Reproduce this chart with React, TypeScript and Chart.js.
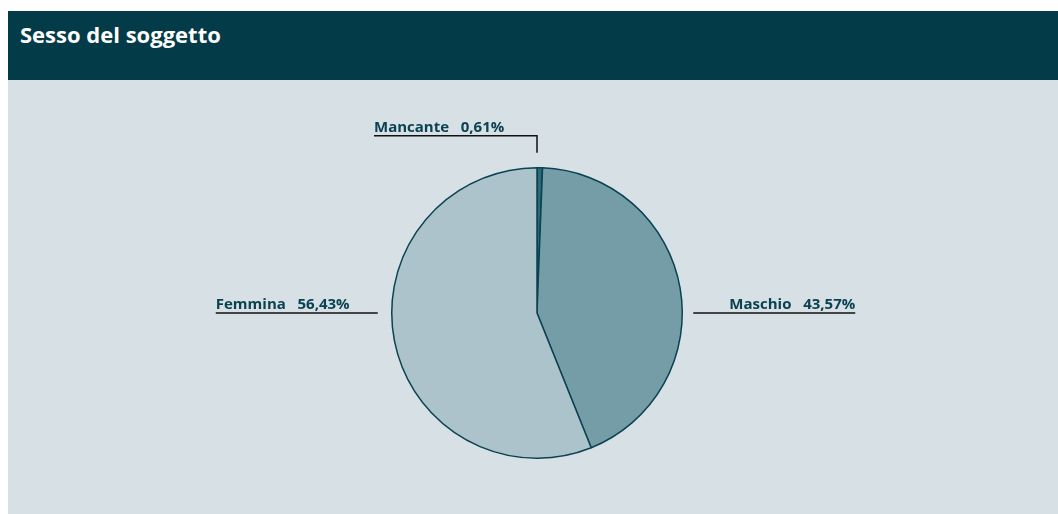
import React, { useEffect, useRef } from "react";
import { Chart, registerables } from "chart.js";

Chart.register(...registerables);

const title = "Sesso del soggetto";
const categories = ["Mancante", "Maschio", "Femmina"];
const values = [0.61, 43.57, 56.43];
const valueLabels = ["0,61%", "43,57%", "56,43%"];
const sliceColors = ["#2c6a79", "#759da8", "#adc3cb"];
const labelSides = ["top", "right", "left"];

const labelPlugin = {
  id: "pieLabels",
  afterDatasetsDraw(chart: any) {
    const ctx = chart.ctx;
    const meta = chart.getDatasetMeta(0);
    const first = meta.data[0];
    if (!first) return;
    const cx = first.x;
    const cy = first.y;
    const r = first.outerRadius;
    ctx.save();
    ctx.font = "bold 15px 'Open Sans', 'DejaVu Sans', sans-serif";
    ctx.fillStyle = "#0b4251";
    ctx.strokeStyle = "#111111";
    ctx.lineWidth = 1.5;
    ctx.textBaseline = "alphabetic";
    categories.forEach((cat, i) => {
      const text = cat + "   " + valueLabels[i];
      const side = labelSides[i];
      const arc = meta.data[i];
      if (side === "top") {
        const x = cx + Math.cos(arc.startAngle) * r;
        const yTop = cy - r - 15;
        const yLine = cy - r - 32;
        ctx.beginPath();
        ctx.moveTo(x, yTop);
        ctx.lineTo(x, yLine);
        ctx.lineTo(x - 163, yLine);
        ctx.stroke();
        ctx.textAlign = "left";
        ctx.fillText(text, x - 163, yLine - 4);
      } else if (side === "left") {
        const xEnd = cx - r - 14;
        const xStart = xEnd - 162;
        ctx.beginPath();
        ctx.moveTo(xStart, cy);
        ctx.lineTo(xEnd, cy);
        ctx.stroke();
        ctx.textAlign = "left";
        ctx.fillText(text, xStart, cy - 4);
      } else {
        const xStart = cx + r + 11;
        const xEnd = xStart + 162;
        ctx.beginPath();
        ctx.moveTo(xStart, cy);
        ctx.lineTo(xEnd, cy);
        ctx.stroke();
        ctx.textAlign = "right";
        ctx.fillText(text, xEnd, cy - 4);
      }
    });
    ctx.restore();
  },
};

export default function App() {
  const ref = useRef<HTMLCanvasElement>(null);
  useEffect(() => {
    if (!ref.current) return;
    const chart = new Chart(ref.current, {
      type: "pie",
      data: {
        labels: categories,
        datasets: [
          {
            data: values,
            backgroundColor: sliceColors,
            borderColor: "#0a4250",
            borderWidth: 1.5,
          },
        ],
      },
      options: {
        animation: false,
        responsive: false,
        maintainAspectRatio: false,
        layout: { padding: { top: 87, bottom: 55, left: 8, right: 0 } },
        plugins: {
          legend: { display: false },
          tooltip: { enabled: false },
        },
      },
      plugins: [labelPlugin],
    });
    return () => chart.destroy();
  }, []);
  return (
    <div style={{ position: "absolute", left: 8, top: 11, width: 1050, height: 503, background: "#d6e0e5" }}>
      <div
        style={{
          height: 69,
          background: "#033b49",
          color: "#ffffff",
          fontFamily: "'Open Sans', 'DejaVu Sans', sans-serif",
          fontWeight: 700,
          fontSize: 22,
          lineHeight: "22px",
          paddingLeft: 12,
          paddingTop: 12,
          boxSizing: "border-box",
        }}
      >
        {title}
      </div>
      <canvas ref={ref} width={1050} height={434} style={{ display: "block" }} />
    </div>
  );
}
